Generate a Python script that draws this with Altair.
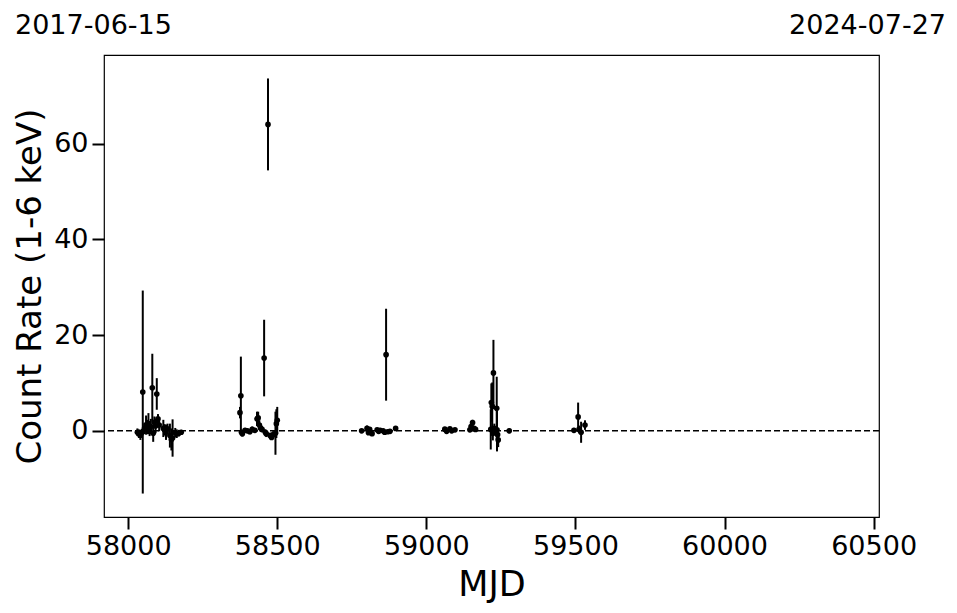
import altair as alt
import pandas as pd

# MJD of each observation, count rate (1-6 keV) and its 1-sigma error
mjd = [
    58031, 58036, 58041, 58045, 58049, 58055, 58060, 58064, 58068, 58072,
    58076, 58081, 58084, 58088, 58092, 58096, 58100, 58104, 58118, 58122,
    58127, 58132, 58140, 58145, 58149, 58158, 58163, 58170, 58178,
    58375, 58378, 58380, 58383, 58392, 58400, 58408, 58416, 58425, 58432,
    58436, 58440, 58444, 58449, 58456, 58460, 58463, 58469, 58476, 58481,
    58486, 58494, 58497, 58500,
    58783, 58801, 58806, 58810, 58818, 58835, 58840, 58845, 58855, 58860,
    58865, 58870, 58878, 58897,
    59062, 59068, 59079, 59085, 59096, 59146, 59150, 59155, 59160, 59165,
    59216, 59218, 59221, 59223, 59225, 59228, 59232, 59236, 59237, 59239,
    59241, 59278,
    59495, 59509, 59512, 59519, 59532,
]
rate = [
    -0.3, -0.6, -0.9, -0.4, 8.1, 0.5, 1.2, 0.8, 1.5, 0.3,
    0.9, 9.0, -0.5, 1.8, 1.0, 7.7, 2.5, 1.2, 0.5, 0.2,
    -0.3, 0.4, -1.0, -1.8, -1.5, -0.4, -0.6, -0.5, -0.3,
    3.8, 7.3, -0.3, -0.6, 0.1, 0.0, -0.2, 0.3, 0.1, 2.5,
    2.7, 1.2, 0.6, 0.3, 15.2, -0.3, -0.6, 64.0, -1.0, -1.4,
    -0.8, -0.5, 1.5, 2.2,
    0.0, 0.5, -0.4, 0.3, -0.6, 0.2, -0.1, 0.1, 0.0, -0.3,
    15.9, -0.2, -0.1, 0.5,
    0.35, -0.1, 0.4, 0.0, 0.2, 0.2, 0.9, 1.7, 0.5, 0.3,
    0.3, 5.9, 5.1, -0.5, 12.1, 0.5, -0.3, 4.7, 0.2, -0.8,
    -1.9, 0.0,
    0.1, 2.9, 0.3, -0.3, 1.2,
]
err = [
    0.8, 0.9, 1.0, 0.8, 21.2, 1.2, 2.0, 1.5, 2.2, 1.4,
    1.6, 7.1, 1.8, 1.2, 1.5, 3.3, 1.0, 1.3, 1.8, 1.2,
    1.6, 1.1, 2.5, 2.3, 3.9, 1.0, 0.9, 0.7, 0.5,
    1.2, 8.2, 0.5, 0.6, 0.5, 0.4, 0.5, 0.6, 0.5, 1.5,
    1.3, 1.0, 0.8, 0.6, 8.0, 0.6, 0.7, 9.6, 0.6, 0.5,
    0.7, 4.5, 3.0, 2.8,
    0.3, 0.6, 0.4, 0.5, 0.3, 0.3, 0.4, 0.3, 0.3, 0.4,
    9.6, 0.3, 0.3, 0.2,
    0.3, 0.3, 0.3, 0.3, 0.3, 0.4, 0.5, 0.6, 0.4, 0.3,
    4.2, 4.0, 5.0, 1.5, 6.9, 1.0, 0.8, 6.6, 4.5, 1.2,
    1.5, 0.5,
    0.5, 3.0, 0.8, 2.2, 1.0,
]

x_ticks = [58000, 58500, 59000, 59500, 60000, 60500]
y_ticks = [0, 20, 40, 60]
x_domain = [57919, 60518]
y_domain = [-18, 78.5]
date_start = "2017-06-15"
date_end = "2024-07-27"

df = pd.DataFrame({"mjd": mjd, "rate": rate, "err": err})
df["lo"] = df["rate"] - df["err"]
df["hi"] = df["rate"] + df["err"]

FONT = "DejaVu Sans"

xs = alt.Scale(domain=x_domain, nice=False, zero=False)
ys = alt.Scale(domain=y_domain, nice=False, zero=False)

x_axis = alt.Axis(
    values=x_ticks, title="MJD", format="d", grid=False, domain=False,
    tickSize=12, tickWidth=2, tickColor="black", labelFontSize=27,
    labelColor="black", labelPadding=4, titleFontSize=35, titleColor="black",
    titleFontWeight="normal", titleBaseline="alphabetic", titleY=78,
    labelFont=FONT, titleFont=FONT,
)
y_axis = alt.Axis(
    values=y_ticks, title="Count Rate (1-6 keV)", grid=False, domain=False,
    tickSize=12, tickWidth=2, tickColor="black", labelFontSize=27,
    labelColor="black", labelPadding=4, titleFontSize=34, titleColor="black",
    titleFontWeight="normal", titleBaseline="alphabetic", titleX=-64,
    titleY=231, labelFont=FONT, titleFont=FONT,
)

base = alt.Chart(df)

bars = base.mark_rule(color="black", strokeWidth=2).encode(
    x=alt.X("mjd:Q", scale=xs, axis=x_axis),
    y=alt.Y("lo:Q", scale=ys, axis=y_axis),
    y2="hi:Q",
)
pts = base.mark_circle(color="black", opacity=1, size=32).encode(
    x=alt.X("mjd:Q", scale=xs),
    y=alt.Y("rate:Q", scale=ys),
)
zero = alt.Chart(pd.DataFrame({"y": [0]})).mark_rule(
    color="black", strokeWidth=1.5, strokeDash=[6, 3]
).encode(y=alt.Y("y:Q", scale=ys))

lbl = pd.DataFrame({"t": [date_start]})
txt_l = alt.Chart(lbl).mark_text(
    align="left", baseline="alphabetic", fontSize=27, font=FONT, color="black"
).encode(text="t:N", x=alt.value(-89), y=alt.value(-21))
lbr = pd.DataFrame({"t": [date_end]})
txt_r = alt.Chart(lbr).mark_text(
    align="right", baseline="alphabetic", fontSize=27, font=FONT, color="black"
).encode(text="t:N", x=alt.value(842), y=alt.value(-21))

chart = (
    alt.layer(bars, zero, pts, txt_l, txt_r)
    .properties(
        width=775, height=462,
        autosize=alt.AutoSizeParams(type="none"),
        padding={"left": 96, "top": 47, "right": 70, "bottom": 86},
    )
    .configure(background="white")
    .configure_view(stroke="black", strokeWidth=1.2)
)

chart.save("out.html", embed_options={"renderer": "svg", "actions": False})
